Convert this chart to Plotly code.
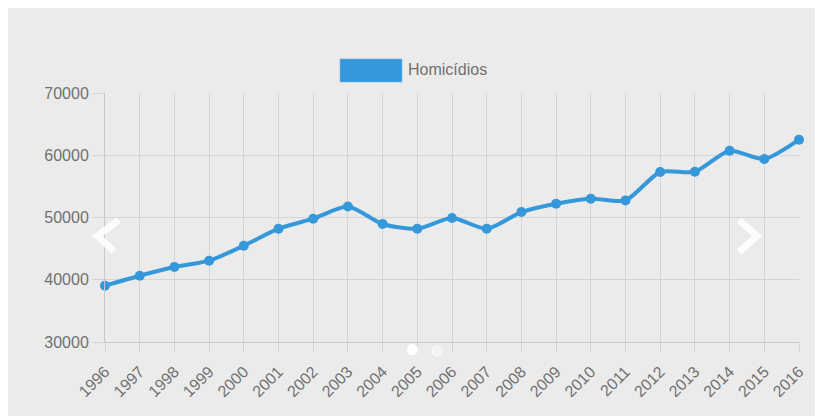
import plotly.graph_objects as go

years = [str(y) for y in range(1996, 2017)]
homicidios = [39044, 40650, 42050, 43060, 45470, 48200, 49810, 51780, 48960, 48200,
              49920, 48200, 50880, 52220, 53020, 52750, 57310, 57350, 60730, 59400, 62500]
series_name = "Homicídios"
y_ticks = [30000, 40000, 50000, 60000, 70000]

OFF = 8  # page body margin
W, H = 823 - OFF, 416 - OFF
L, R, T, B = 105 - OFF, 24, 93 - OFF, 74
PW, PH = W - L - R, H - T - B


def px(x):
    return (x - OFF - L) / PW


def py(y):
    return (H - B - (y - OFF)) / PH


BLUE = "#3498db"
GRID = "#d5d5d5"
TXT = "#707070"
FONT = "Liberation Sans, Arial, Helvetica, sans-serif"

fig = go.Figure()
fig.add_trace(go.Scatter(
    x=years, y=homicidios, mode="lines+markers", name=series_name,
    line=dict(color=BLUE, width=4, shape="spline", smoothing=0.7),
    marker=dict(color=BLUE, size=10),
    cliponaxis=False, showlegend=False,
))

shapes = [
    # legend box
    dict(type="rect", xref="paper", yref="paper", x0=px(340), x1=px(402), y0=py(82), y1=py(59),
         fillcolor=BLUE, line=dict(color="rgba(120,180,230,0.6)", width=1)),
    # carousel arrows
    dict(type="path", xref="paper", yref="paper",
         path=f"M {px(119)} {py(220)} L {px(97)} {py(236)} L {px(114)} {py(251)}",
         line=dict(color="rgba(255,255,255,0.85)", width=7)),
    dict(type="path", xref="paper", yref="paper",
         path=f"M {px(739)} {py(220)} L {px(757)} {py(236)} L {px(739)} {py(252)}",
         line=dict(color="rgba(255,255,255,0.85)", width=7)),
    # carousel dots
    dict(type="circle", xref="paper", yref="paper", x0=px(407), x1=px(418), y0=py(355), y1=py(344),
         fillcolor="white", line=dict(width=0)),
    dict(type="circle", xref="paper", yref="paper", x0=px(432), x1=px(442), y0=py(356), y1=py(346),
         fillcolor="rgba(255,255,255,0.4)", line=dict(color="rgba(255,255,255,0.8)", width=1)),
]

fig.update_layout(
    width=W, height=H,
    margin=dict(l=L, r=R, t=T, b=B, pad=0),
    paper_bgcolor="#ebebeb", plot_bgcolor="#ebebeb",
    font=dict(family=FONT, size=16, color=TXT),
    shapes=shapes,
    annotations=[dict(text=series_name, xref="paper", yref="paper", x=px(406), y=py(70),
                      xanchor="left", yanchor="middle", showarrow=False,
                      font=dict(family=FONT, size=16, color=TXT))],
    showlegend=False,
)
fig.update_xaxes(
    type="category", range=[0, len(years) - 1], tickangle=-45,
    showgrid=True, gridcolor=GRID, gridwidth=1,
    ticks="outside", ticklen=9, tickcolor=GRID, ticklabelstandoff=4,
    showline=True, linecolor="#c8c8c8", linewidth=1, mirror=False,
    tickfont=dict(family=FONT, size=16, color=TXT), zeroline=False,
)
fig.update_yaxes(
    range=[30000, 70000], tickvals=y_ticks, ticktext=[str(v) for v in y_ticks],
    showgrid=True, gridcolor=GRID, gridwidth=1,
    ticks="outside", ticklen=12, tickcolor=GRID,
    showline=True, linecolor="#c8c8c8", linewidth=1,
    tickfont=dict(family=FONT, size=16, color=TXT), zeroline=False,
)

fig.write_html("out.html")
